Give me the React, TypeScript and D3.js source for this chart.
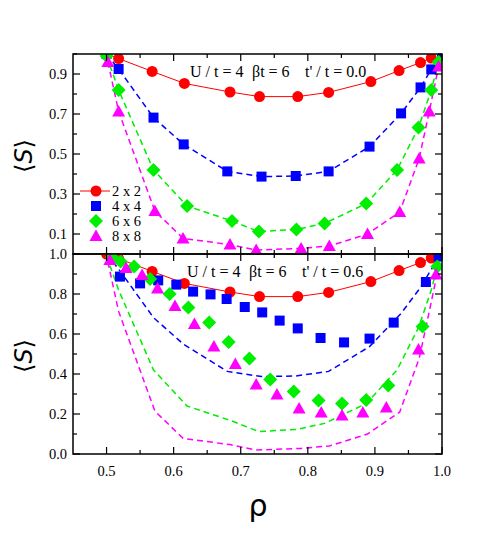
import React from "react";
import * as d3 from "d3";

// t'/t = 0.0 results (also drawn as dashed reference curves in the lower panel)
const rho2 = [0.5, 0.518, 0.568, 0.616, 0.684, 0.728, 0.785, 0.831, 0.894, 0.936, 0.968, 0.984];
const s2 = [1.0, 0.977, 0.913, 0.853, 0.81, 0.787, 0.787, 0.808, 0.862, 0.917, 0.957, 0.98];

const rho4 = [0.5, 0.518, 0.57, 0.615, 0.68, 0.731, 0.782, 0.831, 0.892, 0.939, 0.968, 0.984, 1.0];
const s4 = [1.0, 0.925, 0.682, 0.548, 0.413, 0.387, 0.39, 0.413, 0.537, 0.703, 0.833, 0.923, 0.99];

const rho6 = [0.5, 0.518, 0.57, 0.62, 0.687, 0.727, 0.783, 0.825, 0.887, 0.933, 0.965, 0.984, 0.995];
const s6 = [0.99, 0.82, 0.42, 0.24, 0.165, 0.112, 0.123, 0.153, 0.252, 0.42, 0.632, 0.82, 0.96];

const rho8 = [0.502, 0.518, 0.572, 0.614, 0.684, 0.723, 0.79, 0.832, 0.889, 0.937, 0.966, 0.981, 0.995];
const s8 = [0.96, 0.713, 0.215, 0.078, 0.047, 0.02, 0.028, 0.04, 0.1, 0.21, 0.478, 0.712, 0.937];

// t'/t = 0.6 results
const rho4b = [0.52, 0.55, 0.577, 0.604, 0.629, 0.655, 0.679, 0.706, 0.732, 0.758, 0.785, 0.819, 0.854, 0.892, 0.928, 0.976, 0.995];
const s4b = [0.887, 0.853, 0.868, 0.847, 0.812, 0.798, 0.775, 0.735, 0.708, 0.667, 0.628, 0.58, 0.558, 0.577, 0.657, 0.86, 0.987];

const rho6b = [0.508, 0.521, 0.541, 0.565, 0.594, 0.622, 0.653, 0.682, 0.713, 0.744, 0.779, 0.816, 0.851, 0.887, 0.92, 0.971, 0.993];
const s6b = [0.985, 0.962, 0.937, 0.875, 0.8, 0.732, 0.657, 0.56, 0.477, 0.373, 0.312, 0.267, 0.253, 0.27, 0.342, 0.637, 0.937];

const rho8b = [0.505, 0.529, 0.553, 0.576, 0.602, 0.631, 0.66, 0.692, 0.723, 0.754, 0.787, 0.82, 0.851, 0.882, 0.917, 0.965, 0.991];
const s8b = [0.97, 0.93, 0.895, 0.828, 0.74, 0.65, 0.537, 0.45, 0.347, 0.297, 0.228, 0.207, 0.192, 0.207, 0.233, 0.523, 0.898];

const sizes = ["2 x 2", "4 x 4", "6 x 6", "8 x 8"];
const colors = ["#ff0000", "#0000ff", "#00ee00", "#ff00ff"];
const xTicks = [0.5, 0.6, 0.7, 0.8, 0.9, 1.0];
const topTicks = [0.1, 0.3, 0.5, 0.7, 0.9];
const botTicks = [0.0, 0.2, 0.4, 0.6, 0.8, 1.0];

const left = 73;
const right = 442;
const panels = [
  { top: 54, label: "t' / t = 0.0", labels: topTicks, annX: 190, annY: 77 },
  { top: 254, label: "t' / t = 0.6", labels: botTicks, annX: 187, annY: 277 },
];
const ph = 200;

const zip = (xs: number[], ys: number[]) => xs.map((x, i) => [x, ys[i]] as [number, number]);

const Marker = ({ kind, x, y, color }: { kind: number; x: number; y: number; color: string }) => {
  if (kind === 0) return <circle cx={x} cy={y} r={5.5} fill={color} />;
  if (kind === 1) return <rect x={x - 5} y={y - 5} width={10} height={10} fill={color} />;
  if (kind === 2)
    return <path d={`M${x},${y - 7}L${x + 7},${y}L${x},${y + 7}L${x - 7},${y}Z`} fill={color} />;
  return <path d={`M${x},${y - 6.5}L${x + 6.5},${y + 5}L${x - 6.5},${y + 5}Z`} fill={color} />;
};

export default function App() {
  const x = d3.scaleLinear().domain([0.45, 1.0]).range([left, right]);
  const ref = [zip(rho2, s2), zip(rho4, s4), zip(rho6, s6), zip(rho8, s8)];
  const alt = [zip(rho2, s2), zip(rho4b, s4b), zip(rho6b, s6b), zip(rho8b, s8b)];
  const minorX = d3.range(0.55, 1.0, 0.1);
  const allY = d3.range(0, 11).map((i) => i / 10);

  return (
    <svg width={491} height={541} style={{ position: "absolute", left: 0, top: 0 }}>
      <defs>
        {panels.map((p, i) => (
          <clipPath id={`clip${i}`} key={i}>
            <rect x={left} y={p.top} width={right - left} height={ph} />
          </clipPath>
        ))}
      </defs>
      {panels.map((p, pi) => {
        const y = d3.scaleLinear().domain([0, 1]).range([p.top + ph, p.top]);
        const line = d3
          .line<[number, number]>()
          .x((d) => x(d[0]))
          .y((d) => y(d[1]));
        const markers = pi === 0 ? ref : alt;
        return (
          <g key={pi}>
            <g clipPath={`url(#clip${pi})`}>
              {ref.map((pts, si) => (
                <path
                  key={si}
                  d={line(pts) || ""}
                  fill="none"
                  stroke={colors[si]}
                  strokeWidth={si === 0 ? 1 : 1.5}
                  strokeDasharray={si === 0 ? undefined : "6,4"}
                />
              ))}
              {markers.map((pts, si) =>
                pts.map((d, j) => (
                  <Marker key={`${si}-${j}`} kind={si} x={x(d[0])} y={y(d[1])} color={colors[si]} />
                ))
              )}
            </g>
            {/* frame and inward ticks */}
            <rect x={left} y={p.top} width={right - left} height={ph} fill="none" stroke="#000" strokeWidth={1.5} />
            {allY.map((v) => {
              const major = p.labels.some((l) => Math.abs(l - v) < 1e-6);
              const len = major ? 7 : 4;
              return (
                <g key={v} stroke="#000" strokeWidth={1.2}>
                  <line x1={left} x2={left + len} y1={y(v)} y2={y(v)} />
                  <line x1={right} x2={right - len} y1={y(v)} y2={y(v)} />
                </g>
              );
            })}
            {xTicks.concat(minorX).map((v, i) => {
              const len = i < xTicks.length ? 7 : 4;
              return (
                <g key={`xt${i}`} stroke="#000" strokeWidth={1.2}>
                  <line x1={x(v)} x2={x(v)} y1={p.top + ph} y2={p.top + ph - len} />
                  <line x1={x(v)} x2={x(v)} y1={p.top} y2={p.top + len} />
                </g>
              );
            })}
            {p.labels.map((v) => (
              <text
                key={`yl${v}`}
                x={left - 6}
                y={y(v) + 5}
                textAnchor="end"
                fontFamily="Liberation Serif, serif"
                fontSize={14.5}
              >
                {v.toFixed(1)}
              </text>
            ))}
            <g fontFamily="Liberation Serif, serif" fontSize={16}>
              <text x={p.annX} y={p.annY}>U / t = 4</text>
              <text x={p.annX + 62} y={p.annY}>βt = 6</text>
              <text x={p.annX + 115} y={p.annY}>{p.label}</text>
            </g>
            <text
              transform={`translate(32,${p.top + ph / 2 + 2}) rotate(-90)`}
              textAnchor="middle"
              fontFamily="DejaVu Sans, sans-serif"
              fontSize={24}
            >
              ⟨<tspan fontStyle="italic">S</tspan>⟩
            </text>
          </g>
        );
      })}
      {xTicks.map((v) => (
        <text
          key={`xl${v}`}
          x={x(v)}
          y={476}
          textAnchor="middle"
          fontFamily="Liberation Serif, serif"
          fontSize={14.5}
        >
          {v.toFixed(1)}
        </text>
      ))}
      <text x={258} y={516} textAnchor="middle" fontFamily="DejaVu Sans, sans-serif" fontSize={30}>
        ρ
      </text>
      {/* legend */}
      {sizes.map((s, i) => {
        const ly = 191 + i * 15;
        return (
          <g key={s}>
            {i === 0 && <line x1={80} x2={110} y1={ly} y2={ly} stroke={colors[0]} strokeWidth={1} />}
            <Marker kind={i} x={96} y={ly} color={colors[i]} />
            <text x={112} y={ly + 5} fontFamily="Liberation Serif, serif" fontSize={14.5}>
              {s}
            </text>
          </g>
        );
      })}
    </svg>
  );
}
